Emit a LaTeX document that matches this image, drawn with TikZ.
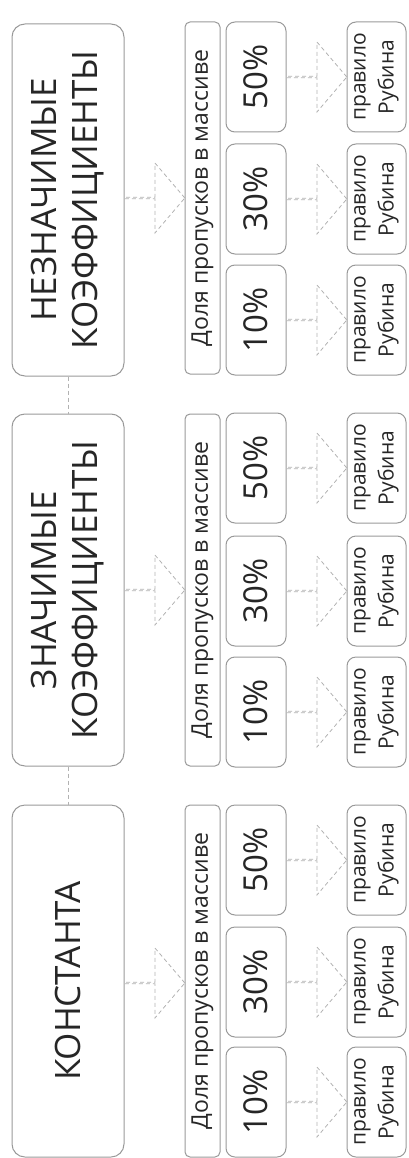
\documentclass[tikz,border=0pt]{standalone}
\usepackage{fontspec}
\setmainfont{Open Sans}
\usetikzlibrary{shapes.arrows}
\definecolor{boxgray}{HTML}{999999}
\definecolor{dashgray}{HTML}{B2B2B2}
\definecolor{textgray}{HTML}{262626}
\tikzset{
  box/.style={rotate=90, draw=boxgray, line width=1pt, text=textgray, inner sep=0pt, align=center},
  blockbox/.style={box, rounded corners=13pt, minimum width=352pt, minimum height=112pt, font=\fontsize{35}{41}\selectfont},
  sharebox/.style={box, rounded corners=5pt, minimum width=352pt, minimum height=35pt, font=\fontsize{23}{26}\selectfont},
  pctbox/.style={box, rounded corners=9pt, minimum width=110pt, minimum height=60pt, font=\fontsize{33}{36}\selectfont},
  rulebox/.style={box, rounded corners=9pt, minimum width=110pt, minimum height=59pt, font=\fontsize{21}{28}\selectfont},
  hollowarrow/.style={single arrow, draw=dashgray, line width=0.8pt, dash pattern=on 4pt off 3pt,
    minimum height=60pt, minimum width=70pt, single arrow head extend=17.5pt,
    single arrow tip angle=99, inner sep=0pt},
  link/.style={draw=dashgray, line width=0.8pt, dash pattern=on 4pt off 3pt}
}
\begin{document}
\begin{tikzpicture}[x=1pt, y=1pt]
      \useasboundingbox (0,0) rectangle (408,-1158);
      % blocks
      \node[blockbox] (insig) at (68,-200) {НЕЗНАЧИМЫЕ\\КОЭФФИЦИЕНТЫ};
      \node[blockbox] (sig) at (68,-590) {ЗНАЧИМЫЕ\\КОЭФФИЦИЕНТЫ};
      \node[blockbox] (const) at (68,-981) {КОНСТАНТА};
      \draw[link] (insig.west) -- (sig.east);
      \draw[link] (sig.west) -- (const.east);
      % shares
      \node[sharebox] (insig-share) at (202.5,-198) {Доля пропусков в массиве};
      \node[sharebox] (sig-share) at (202.5,-590) {Доля пропусков в массиве};
      \node[sharebox] (const-share) at (202.5,-981) {Доля пропусков в массиве};
      \node[hollowarrow] (insig-arrow) at (154.5,-198) {};
      \node[hollowarrow] (sig-arrow) at (154.5,-590) {};
      \node[hollowarrow] (const-arrow) at (154.5,-983) {};
      % percentages
      \node[pctbox] (insig-50) at (256,-77) {50\%};
      \node[pctbox] (insig-30) at (256,-199) {30\%};
      \node[pctbox] (insig-10) at (256,-320) {10\%};
      \node[pctbox] (sig-50) at (256,-468) {50\%};
      \node[pctbox] (sig-30) at (256,-591) {30\%};
      \node[pctbox] (sig-10) at (256,-712) {10\%};
      \node[pctbox] (const-50) at (256,-860) {50\%};
      \node[pctbox] (const-30) at (256,-982) {30\%};
      \node[pctbox] (const-10) at (256,-1102) {10\%};
      % rules
      \node[rulebox] (insig-50-rule) at (376.5,-77) {правило\\Рубина};
      \node[rulebox] (insig-30-rule) at (376.5,-199) {правило\\Рубина};
      \node[rulebox] (insig-10-rule) at (376.5,-320) {правило\\Рубина};
      \node[rulebox] (sig-50-rule) at (376.5,-468) {правило\\Рубина};
      \node[rulebox] (sig-30-rule) at (376.5,-591) {правило\\Рубина};
      \node[rulebox] (sig-10-rule) at (376.5,-712) {правило\\Рубина};
      \node[rulebox] (const-50-rule) at (376.5,-860) {правило\\Рубина};
      \node[rulebox] (const-30-rule) at (376.5,-982) {правило\\Рубина};
      \node[rulebox] (const-10-rule) at (376.5,-1102) {правило\\Рубина};
      \node[hollowarrow] (insig-50-arrow) at (316.5,-77) {};
      \node[hollowarrow] (insig-30-arrow) at (316.5,-199) {};
      \node[hollowarrow] (insig-10-arrow) at (316.5,-320) {};
      \node[hollowarrow] (sig-50-arrow) at (316.5,-468) {};
      \node[hollowarrow] (sig-30-arrow) at (316.5,-591) {};
      \node[hollowarrow] (sig-10-arrow) at (316.5,-712) {};
      \node[hollowarrow] (const-50-arrow) at (316.5,-860) {};
      \node[hollowarrow] (const-30-arrow) at (316.5,-982) {};
      \node[hollowarrow] (const-10-arrow) at (316.5,-1102) {};
    \end{tikzpicture}
\end{document}
